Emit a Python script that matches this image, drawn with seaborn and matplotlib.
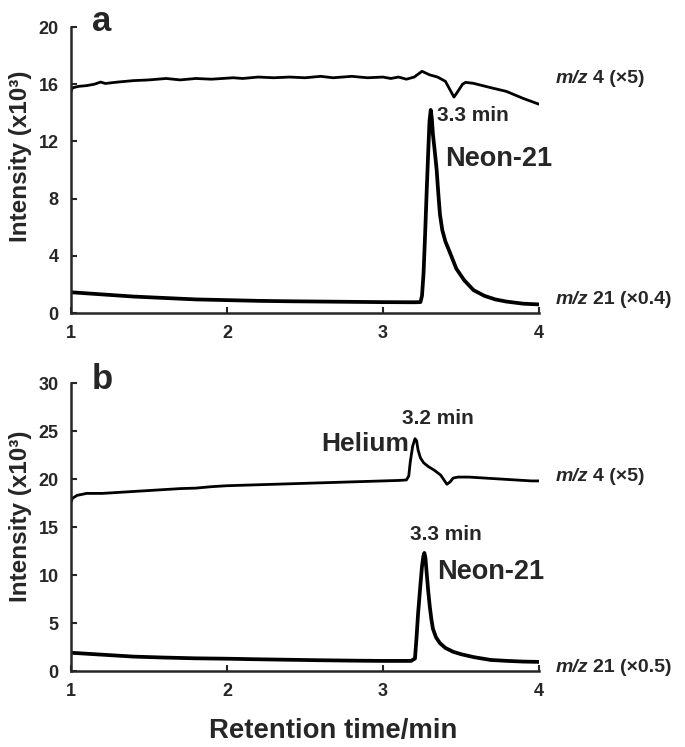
import pandas as pd
import matplotlib.pyplot as plt
import seaborn as sns

# --- data (time in min, intensity in x10^3) ---
a_mz4_t = [1.00, 1.01, 1.05, 1.10, 1.15, 1.19, 1.22, 1.30, 1.40, 1.50, 1.61, 1.70, 1.80,
           1.90, 2.04, 2.10, 2.20, 2.30, 2.40, 2.50, 2.60, 2.68, 2.80, 2.90, 3.00, 3.05,
           3.10, 3.15, 3.20, 3.25, 3.30, 3.35, 3.40, 3.43, 3.455, 3.48, 3.51, 3.53, 3.58,
           3.69, 3.79, 3.90, 3.95, 4.00]
a_mz4_y = [15.5, 15.75, 15.85, 15.9, 16.0, 16.15, 16.05, 16.15, 16.25, 16.3, 16.4, 16.3, 16.4,
           16.35, 16.45, 16.4, 16.5, 16.45, 16.5, 16.45, 16.55, 16.45, 16.55, 16.45, 16.5, 16.4,
           16.5, 16.35, 16.5, 16.9, 16.65, 16.5, 16.2, 15.6, 15.1, 15.5, 16.0, 16.13, 16.06,
           15.76, 15.5, 15.0, 14.8, 14.6]

a_mz21_t = [1.00, 1.20, 1.40, 1.60, 1.80, 2.00, 2.20, 2.40, 2.60, 2.80, 3.00, 3.20, 3.24,
            3.25, 3.26, 3.27, 3.28, 3.29, 3.298, 3.306, 3.313, 3.32, 3.332, 3.344, 3.355,
            3.365, 3.38, 3.40, 3.43, 3.47, 3.52, 3.58, 3.65, 3.72, 3.79, 3.90, 4.00]
a_mz21_y = [1.45, 1.3, 1.15, 1.05, 0.95, 0.9, 0.85, 0.82, 0.8, 0.78, 0.76, 0.75, 0.76,
            1.2, 2.8, 5.5, 8.5, 11.3, 13.4, 14.2, 13.6, 12.5, 11.3, 10.0, 8.3,
            6.9, 5.8, 5.0, 4.2, 3.1, 2.3, 1.6, 1.2, 0.95, 0.8, 0.65, 0.6]

b_mz4_t = [1.00, 1.01, 1.04, 1.10, 1.20, 1.30, 1.40, 1.50, 1.60, 1.70, 1.80, 1.90, 2.00,
           2.20, 2.40, 2.60, 2.80, 3.00, 3.10, 3.15, 3.165, 3.175, 3.19, 3.205, 3.215,
           3.225, 3.24, 3.26, 3.29, 3.33, 3.37, 3.395, 3.41, 3.43, 3.45, 3.48, 3.55, 3.65,
           3.75, 3.85, 3.95, 4.00]
b_mz4_y = [17.6, 18.0, 18.3, 18.5, 18.5, 18.6, 18.7, 18.8, 18.9, 19.0, 19.05, 19.2, 19.3,
           19.4, 19.5, 19.6, 19.7, 19.8, 19.85, 19.9, 20.3, 21.8, 23.4, 24.2, 24.0,
           23.0, 22.2, 21.7, 21.3, 20.9, 20.4, 19.8, 19.45, 19.7, 20.1, 20.2, 20.2, 20.1,
           20.0, 19.9, 19.8, 19.8]

b_mz21_t = [1.00, 1.20, 1.40, 1.60, 1.80, 2.00, 2.20, 2.40, 2.60, 2.80, 3.00, 3.18, 3.205,
            3.215, 3.225, 3.24, 3.25, 3.258, 3.265, 3.272, 3.28, 3.29, 3.30, 3.31, 3.32,
            3.34, 3.365, 3.40, 3.45, 3.50, 3.58, 3.69, 3.80, 3.90, 4.00]
b_mz21_y = [1.9, 1.7, 1.5, 1.4, 1.32, 1.28, 1.22, 1.17, 1.12, 1.08, 1.05, 1.05, 1.3,
            3.5, 6.0, 9.0, 10.9, 11.9, 12.3, 11.8, 10.2, 8.3, 6.7, 5.4, 4.4,
            3.5, 2.9, 2.4, 2.0, 1.75, 1.45, 1.15, 1.05, 0.98, 0.95]

x_ticks = [1, 2, 3, 4]
a_y_ticks = [0, 4, 8, 12, 16, 20]
b_y_ticks = [0, 5, 10, 15, 20, 25, 30]

sns.set_style('ticks')
plt.rcParams['font.family'] = ['Liberation Sans', 'DejaVu Sans']
plt.rcParams['font.weight'] = 'bold'

fig = plt.figure(figsize=(6.85, 7.47), dpi=100)
W, H = 685, 747


def box(l, t, r, b):
    return [l / W, 1 - b / H, (r - l) / W, (b - t) / H]


def mz_label(ax, y, rest):
    # italic "m/z" followed by the upright part of the label
    t1 = ax.text(4.11, y, 'm/z', fontsize=14, fontweight='bold', style='italic',
                 va='baseline', clip_on=False)
    ax.annotate(rest, xy=(1, 0), xycoords=t1, xytext=(3, 0), textcoords='offset points',
                fontsize=14, fontweight='bold', va='bottom', ha='left')


ax_a = fig.add_axes(box(71, 27, 539, 313))
ax_b = fig.add_axes(box(71, 383, 539, 671))

panels = [
    (ax_a, a_mz4_t, a_mz4_y, a_mz21_t, a_mz21_y, a_y_ticks, 20, 0.549),
    (ax_b, b_mz4_t, b_mz4_y, b_mz21_t, b_mz21_y, b_y_ticks, 30, 0.538),
]

for ax, t4, y4, t21, y21, yt, ymax, ylab_y in panels:
    d4 = pd.DataFrame({'t': t4, 'y': y4})
    d21 = pd.DataFrame({'t': t21, 'y': y21})
    sns.lineplot(data=d4, x='t', y='y', ax=ax, color='black', linewidth=2.0)
    sns.lineplot(data=d21, x='t', y='y', ax=ax, color='black', linewidth=2.7)
    ax.set_xlim(1, 4)
    ax.set_ylim(0, ymax)
    ax.set_xticks(x_ticks)
    ax.set_yticks(yt)
    ax.set_xlabel('')
    ax.set_ylabel('Intensity (x10³)', fontsize=17.5, fontweight='bold')
    ax.yaxis.set_label_coords(-0.083, ylab_y)
    ax.tick_params(direction='in', length=4, width=1.5, labelsize=13, pad=9)
    for lab in ax.get_xticklabels() + ax.get_yticklabels():
        lab.set_fontweight('bold')
    sns.despine(ax=ax)
    for s in ['left', 'bottom']:
        ax.spines[s].set_linewidth(1.8)
    ax.margins(x=0)

# panel a annotations
ax_a.text(1.135, 20.35, 'a', fontsize=25, fontweight='bold', ha='left', va='center',
          clip_on=False)
mz_label(ax_a, 16.1, '4 (×5)')
mz_label(ax_a, 0.6, '21 (×0.4)')
ax_a.text(3.346, 13.8, '3.3 min', fontsize=15, fontweight='bold', va='center')
ax_a.text(3.397, 10.8, 'Neon-21', fontsize=19.5, fontweight='bold', va='center')

# panel b annotations
ax_b.text(1.135, 30.4, 'b', fontsize=25, fontweight='bold', ha='left', va='center',
          clip_on=False)
mz_label(ax_b, 19.75, '4 (×5)')
mz_label(ax_b, -0.15, '21 (×0.5)')
ax_b.text(3.353, 26.35, '3.2 min', fontsize=15, fontweight='bold', ha='center', va='center')
ax_b.text(3.17, 23.6, 'Helium', fontsize=19, fontweight='bold', ha='right', va='center')
ax_b.text(3.40, 14.2, '3.3 min', fontsize=15, fontweight='bold', ha='center', va='center')
ax_b.text(3.35, 10.3, 'Neon-21', fontsize=19.5, fontweight='bold', va='center')

fig.text(333 / W, 1 - 731 / H, 'Retention time/min', fontsize=19.8, fontweight='bold',
         ha='center', va='center')

fig.savefig('out.png', dpi=100)
